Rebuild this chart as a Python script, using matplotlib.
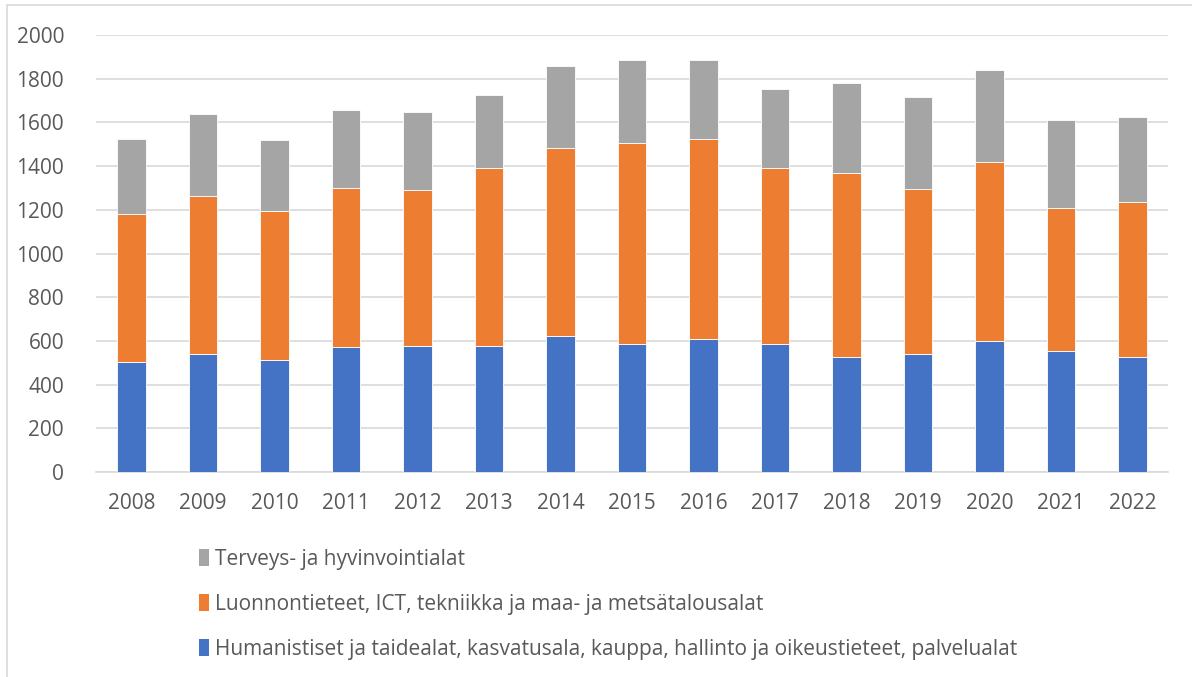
import matplotlib
matplotlib.use("Agg")
import matplotlib.pyplot as plt
import numpy as np
from matplotlib.patches import Rectangle, Patch

years = ["2008", "2009", "2010", "2011", "2012", "2013", "2014", "2015",
         "2016", "2017", "2018", "2019", "2020", "2021", "2022"]
humanistiset = [505, 540, 512, 570, 576, 578, 622, 585, 607, 587, 526, 541, 599, 555, 528]
luonnontieteet = [675, 725, 682, 731, 714, 813, 860, 919, 917, 806, 844, 756, 821, 653, 707]
terveys = [345, 375, 327, 354, 359, 334, 377, 380, 363, 358, 412, 419, 418, 403, 389]

labels = [
    "Humanistiset ja taidealat, kasvatusala, kauppa, hallinto ja oikeustieteet, palvelualat",
    "Luonnontieteet, ICT, tekniikka ja maa- ja metsätalousalat",
    "Terveys- ja hyvinvointialat",
]
colors = ["#4472C4", "#ED7D31", "#A5A5A5"]

plt.rcParams["font.family"] = ["Open Sans", "DejaVu Sans"]
text_col = "#595959"
grid_col = "#D9D9D9"

W, H = 1192, 677
fig = plt.figure(figsize=(W / 100, H / 100), dpi=100)
ax = fig.add_axes([96 / W, 1 - 472 / H, (1168 - 96) / W, (472 - 35) / H])

x = np.arange(len(years))
bw = 0.4
b1 = np.array(humanistiset)
b2 = b1 + np.array(luonnontieteet)
ax.bar(x, humanistiset, bw, color=colors[0], edgecolor="white", linewidth=0.6, zorder=3)
ax.bar(x, luonnontieteet, bw, bottom=b1, color=colors[1], edgecolor="white", linewidth=0.6, zorder=3)
ax.bar(x, terveys, bw, bottom=b2, color=colors[2], edgecolor="white", linewidth=0.6, zorder=3)

ax.set_xlim(-0.5, len(years) - 0.5)
ax.set_ylim(0, 2000)
ax.set_yticks(np.arange(0, 2001, 200))
ax.set_xticks(x)
ax.set_xticklabels(years)
ax.yaxis.grid(True, color=grid_col, linewidth=1.2, zorder=0)
ax.set_axisbelow(True)
for s in ["top", "right", "left"]:
    ax.spines[s].set_visible(False)
ax.spines["bottom"].set_color(grid_col)
ax.spines["bottom"].set_linewidth(1.2)
ax.tick_params(axis="both", length=0, labelsize=15, colors=text_col)
ax.tick_params(axis="y", pad=23)
ax.tick_params(axis="x", pad=15)

# legend below the plot, reversed order, one column
handles = [Patch(facecolor=c) for c in colors][::-1]
leg = fig.legend(handles, labels[::-1], loc="upper left",
                 bbox_to_anchor=(180 / W, 1 - 530 / H), frameon=False,
                 fontsize=15, labelcolor=text_col, handlelength=0.5,
                 handleheight=0.85, handletextpad=0.3, labelspacing=1.15)

# outer chart frame
fig.patches.append(Rectangle((7 / W, -0.1), 1.2, 1.1 - 5 / H, transform=fig.transFigure,
                             fill=False, edgecolor=grid_col, linewidth=1.2))

fig.savefig("out.png", dpi=100)
